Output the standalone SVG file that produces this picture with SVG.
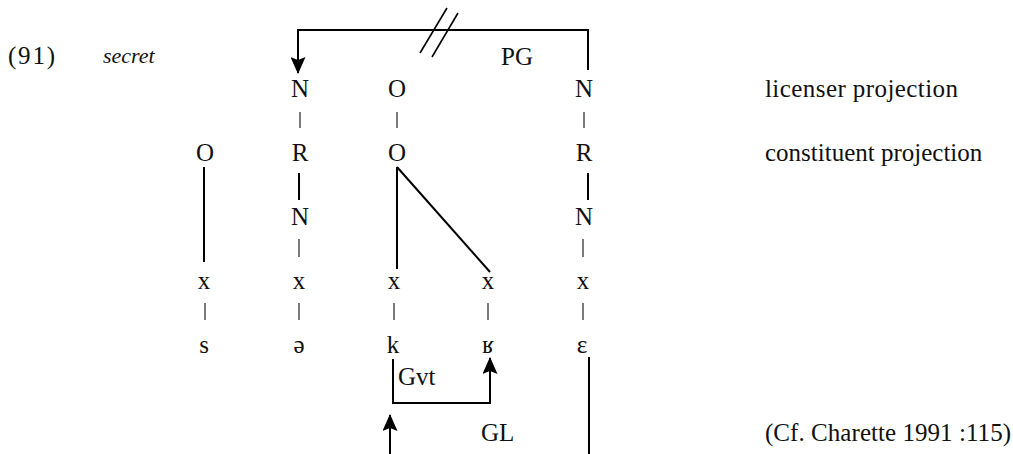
<svg xmlns="http://www.w3.org/2000/svg" width="1013" height="454" viewBox="0 0 1013 454">
  <style>
    text { font-family: "Liberation Serif", "DejaVu Serif", serif; font-size: 25px; fill: #111; }
    .c { text-anchor: middle; }
    .it { font-style: italic; font-size: 22px; }
    .ln { stroke: #000; stroke-width: 2; fill: none; }
    .tick { stroke: #333; stroke-width: 1.3; fill: none; }
    .slash { stroke: #000; stroke-width: 1.6; fill: none; }
  </style>
  <defs>
    <marker id="arrow" viewBox="0 0 17 15" refX="16" refY="7.5" markerWidth="17" markerHeight="15" markerUnits="userSpaceOnUse" orient="auto">
      <path d="M0,0 L17,7.5 L0,15 L3,7.5 Z" fill="#000"/>
    </marker>
  </defs>
  <rect width="1013" height="454" fill="#fff"/>

  <!-- example number and word -->
  <g id="label-number"><text x="8" y="64" textLength="47">(91)</text></g>
  <g id="label-word"><text class="it" x="103" y="63">secret</text></g>

  <!-- column 1: s -->
  <g id="col1-O"><text class="c" x="205" y="161">O</text></g>
  <g id="col1-x"><text class="c" x="204" y="289">x</text></g>
  <g id="col1-s"><text class="c" x="204" y="353">s</text></g>

  <!-- column 2: schwa -->
  <g id="col2-N-top"><text class="c" x="300" y="97">N</text></g>
  <g id="col2-R"><text class="c" x="300" y="161">R</text></g>
  <g id="col2-N"><text class="c" x="300" y="225">N</text></g>
  <g id="col2-x"><text class="c" x="299" y="289">x</text></g>
  <g id="col2-schwa"><text class="c" x="299" y="353">ə</text></g>

  <!-- column 3: k -->
  <g id="col3-O-top"><text class="c" x="397" y="97">O</text></g>
  <g id="col3-O"><text class="c" x="397" y="161">O</text></g>
  <g id="col3-x"><text class="c" x="394" y="289">x</text></g>
  <g id="col3-k"><text class="c" x="393" y="353">k</text></g>

  <!-- column 4: uvular r -->
  <g id="col4-x"><text class="c" x="488" y="289">x</text></g>
  <g id="col4-r"><text class="c" x="488" y="353">ʁ</text></g>

  <!-- column 5: epsilon -->
  <g id="col5-N-top"><text class="c" x="584" y="97">N</text></g>
  <g id="col5-R"><text class="c" x="584" y="161">R</text></g>
  <g id="col5-N"><text class="c" x="584" y="225">N</text></g>
  <g id="col5-x"><text class="c" x="583" y="289">x</text></g>
  <g id="col5-eps"><text class="c" x="582" y="353">ε</text></g>

  <!-- relation labels -->
  <g id="label-PG"><text x="501" y="65">PG</text></g>
  <g id="label-Gvt"><text x="398" y="385">Gvt</text></g>
  <g id="label-GL"><text x="481" y="441">GL</text></g>

  <!-- row captions -->
  <g id="caption-licenser"><text x="765" y="97" textLength="193">licenser projection</text></g>
  <g id="caption-constituent"><text x="765" y="161">constituent projection</text></g>
  <g id="caption-source"><text x="765" y="441" textLength="246">(Cf. Charette 1991 :115)</text></g>

  <g id="connectors">
    <!-- projection ticks -->
    <line class="tick" x1="300" y1="112" x2="300" y2="128"/>
    <line class="tick" x1="397" y1="112" x2="397" y2="128"/>
    <line class="tick" x1="584" y1="112" x2="584" y2="128"/>
    <line class="tick" x1="299" y1="239" x2="299" y2="257"/>
    <line class="tick" x1="583" y1="239" x2="583" y2="257"/>
    <line class="tick" x1="205" y1="303" x2="205" y2="320"/>
    <line class="tick" x1="299" y1="303" x2="299" y2="320"/>
    <line class="tick" x1="394" y1="303" x2="394" y2="320"/>
    <line class="tick" x1="488" y1="303" x2="488" y2="320"/>
    <line class="tick" x1="583" y1="303" x2="583" y2="320"/>

    <!-- constituent association lines -->
    <line class="ln" x1="204" y1="167" x2="204" y2="262"/>
    <line class="ln" x1="299" y1="173" x2="299" y2="200"/>
    <line class="ln" x1="588" y1="173" x2="588" y2="200"/>
    <line class="ln" x1="397" y1="167" x2="397" y2="269"/>
    <line class="ln" x1="397" y1="167" x2="490" y2="272"/>

    <!-- proper government (blocked) -->
    <path class="ln" d="M588,70 V30 H298 V73" marker-end="url(#arrow)"/>
    <line class="slash" x1="420" y1="53" x2="447" y2="8"/>
    <line class="slash" x1="432" y1="57" x2="458" y2="13"/>

    <!-- government k to r -->
    <path class="ln" d="M393,359 V403 H490 V358" marker-end="url(#arrow)"/>

    <!-- government licensing -->
    <path class="ln" d="M390,460 V415" marker-end="url(#arrow)"/>
    <line class="ln" x1="589" y1="357" x2="589" y2="460"/>
  </g>
</svg>
